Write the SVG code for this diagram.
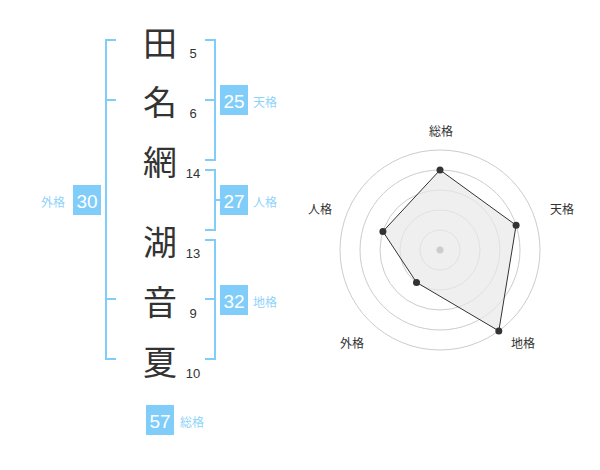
<svg xmlns="http://www.w3.org/2000/svg" width="600" height="470" viewBox="0 0 600 470">
<style>
.kanji{font-family:"Noto Sans CJK JP","Noto Sans CJK SC",sans-serif;font-size:34px;fill:#333;text-anchor:middle;dominant-baseline:central}
.stroke{font-family:"Liberation Sans",Arial,sans-serif;font-size:13px;fill:#333;text-anchor:middle}
.br{fill:none;stroke:#80cdfa;stroke-width:2}
.box{fill:#80cdfa}
.num{font-family:"Liberation Sans",Arial,sans-serif;font-size:19px;fill:#fff;text-anchor:middle;dominant-baseline:central}
.lbl{font-family:"Noto Sans CJK JP","Noto Sans CJK SC",sans-serif;font-size:12px;fill:#8fd3fa;dominant-baseline:central}
.rl{font-family:"Noto Sans CJK JP","Noto Sans CJK SC",sans-serif;font-size:12px;fill:#333;text-anchor:middle;dominant-baseline:central}
.ring{fill:none;stroke:#ccc;stroke-width:1}
.dot{fill:#333}
</style>
<rect width="600" height="470" fill="#fff"/>
<g id="names">
<text class="kanji" x="160" y="41">田</text>
<text class="kanji" x="160" y="100">名</text>
<text class="kanji" x="160" y="160">網</text>
<text class="kanji" x="160" y="240">湖</text>
<text class="kanji" x="160" y="300">音</text>
<text class="kanji" x="160" y="360">夏</text>
<text class="stroke" x="193" y="58">5</text>
<text class="stroke" x="193" y="118">6</text>
<text class="stroke" x="193" y="178">14</text>
<text class="stroke" x="193" y="258">13</text>
<text class="stroke" x="193" y="318">9</text>
<text class="stroke" x="193" y="378">10</text>
</g>
<g id="connectors">
<path class="br" d="M116,40 H106 V359 H116 M106,100 H116 M106,299 H116"/>
<path class="br" d="M205,40 H215 V160 H205 M215,100 H205"/>
<path class="br" d="M205,170 H215 V230 H205 M215,200 H220"/>
<path class="br" d="M205,240 H215 V359 H205 M215,299 H205"/>
</g>
<g id="tenkaku">
<rect class="box" x="220" y="85" width="28" height="30"/>
<text class="num" x="234" y="101">25</text>
<text class="lbl" x="253" y="101">天格</text>
</g>
<g id="jinkaku">
<rect class="box" x="220" y="185" width="28" height="30"/>
<text class="num" x="234" y="201">27</text>
<text class="lbl" x="253" y="201">人格</text>
</g>
<g id="chikaku">
<rect class="box" x="220" y="285" width="28" height="30"/>
<text class="num" x="234" y="301">32</text>
<text class="lbl" x="253" y="301">地格</text>
</g>
<g id="gaikaku">
<rect class="box" x="73" y="185" width="28" height="30"/>
<text class="num" x="87" y="201">30</text>
<text class="lbl" x="41" y="201">外格</text>
</g>
<g id="soukaku">
<rect class="box" x="146" y="405" width="28" height="30"/>
<text class="num" x="160" y="421">57</text>
<text class="lbl" x="180" y="421">総格</text>
</g>
<g id="radar">
<circle class="ring" cx="440" cy="250" r="20"/>
<circle class="ring" cx="440" cy="250" r="40"/>
<circle class="ring" cx="440" cy="250" r="60"/>
<circle class="ring" cx="440" cy="250" r="80"/>
<circle class="ring" cx="440" cy="250" r="100"/>
<polygon points="440,170 516.1,225.3 498.8,330.9 416.5,282.4 382.9,231.5" fill="#e8e8e8" fill-opacity="0.7" stroke="#333" stroke-width="1"/>
<circle cx="440" cy="250" r="3.5" fill="#ccc"/>
<circle class="dot" cx="440" cy="170" r="3.5"/>
<circle class="dot" cx="516.1" cy="225.3" r="3.5"/>
<circle class="dot" cx="498.8" cy="330.9" r="3.5"/>
<circle class="dot" cx="416.5" cy="282.4" r="3.5"/>
<circle class="dot" cx="382.9" cy="231.5" r="3.5"/>
<text class="rl" x="441" y="130">総格</text>
<text class="rl" x="562" y="208">天格</text>
<text class="rl" x="523" y="342">地格</text>
<text class="rl" x="352" y="342">外格</text>
<text class="rl" x="320" y="208">人格</text>
</g>
</svg>
